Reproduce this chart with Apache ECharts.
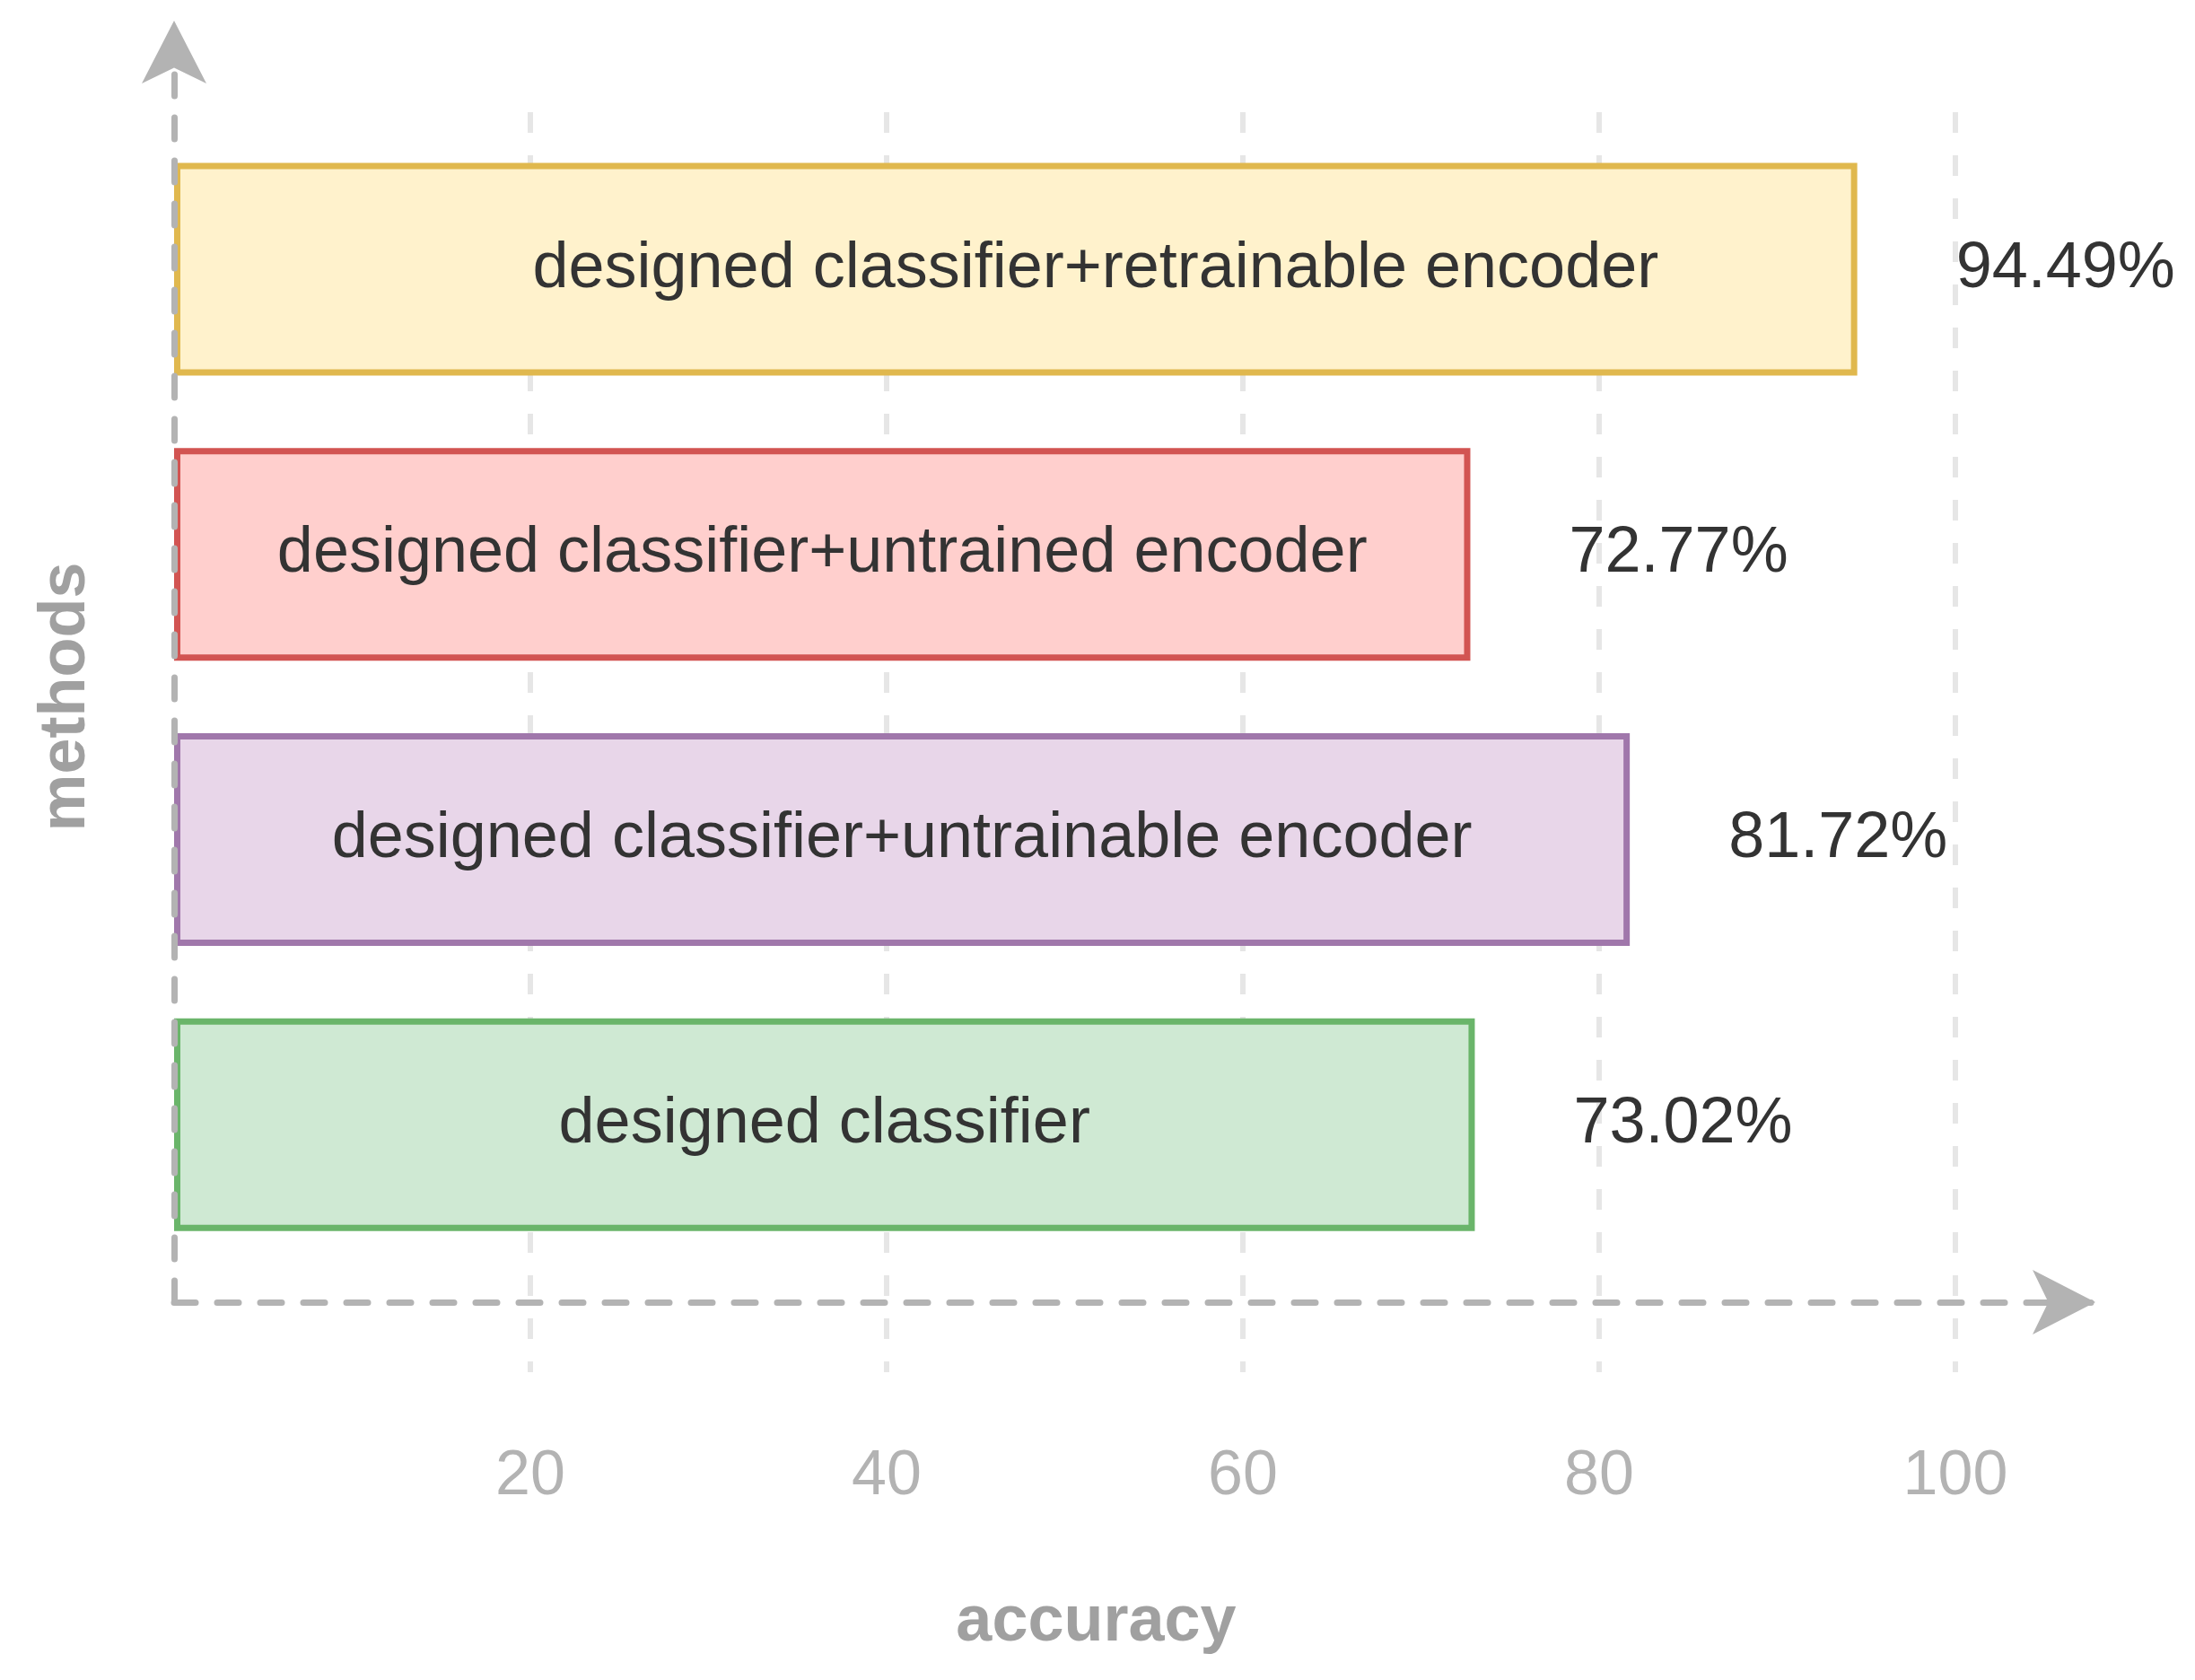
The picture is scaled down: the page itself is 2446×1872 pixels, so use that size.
<!DOCTYPE html>
<html>
<head>
<meta charset="utf-8">
<script src="https://cdn.jsdelivr.net/npm/echarts@6/dist/echarts.min.js"></script>
<style>
  html, body { margin: 0; padding: 0; background: #fff; }
  #chart { width: 2446px; height: 1872px; }
</style>
</head>
<body>
<div id="chart"></div>
<script>
// chart data
const methods = [
    'designed classifier+retrainable encoder',
    'designed classifier+untrained encoder',
    'designed classifier+untrainable encoder',
    'designed classifier'
]
const accuracy = [94.49, 72.77, 81.72, 73.02]
const xMin = 0
const xMax = 100
const xStep = 20

// draw.io style colours, one per bar
const fills = ['#fff2cc', '#ffcfcd', '#e8d6e9', '#cfe9d3']
const strokes = ['#e0b84e', '#d25452', '#a077ab', '#6ab56a']

const font = '"Liberation Sans", Arial, sans-serif'
const axisGrey = '#b3b3b3'

const myChart = echarts.init(document.getElementById('chart'), null, { renderer: 'canvas' })

const option = {
    animation: false,
    backgroundColor: '#fff',
    textStyle: { fontFamily: font },
    grid: [
        // bars
        { left: 194, right: 267, top: 141, bottom: 460 },
        // dashed split lines + tick labels
        { left: 194, right: 267, top: 125, bottom: 343 },
        // arrow axis lines
        { left: 194, right: 111, top: 23, bottom: 421 }
    ],
    xAxis: [
        { gridIndex: 0, type: 'value', min: xMin, max: xMax, show: false },
        {
            gridIndex: 1,
            type: 'value',
            min: xMin,
            max: xMax,
            interval: xStep,
            axisLine: { show: false },
            axisTick: { show: false },
            axisLabel: {
                showMinLabel: false,
                color: axisGrey,
                fontSize: 70,
                fontFamily: font,
                margin: 82
            },
            splitLine: {
                show: true,
                showMinLine: false,
                lineStyle: { color: '#e6e6e6', width: 6, type: [23, 25] }
            },
            name: 'accuracy',
            nameLocation: 'middle',
            nameGap: 243,
            nameTextStyle: {
                color: '#a0a0a0',
                fontSize: 72,
                fontWeight: 'bold',
                fontFamily: font,
                padding: [0, 0, 0, 70]
            }
        },
        {
            gridIndex: 2,
            type: 'value',
            min: 0,
            max: 1,
            z: 5,
            axisLine: {
                show: true,
                symbol: ['none', 'arrow'],
                symbolSize: [54, 70],
                lineStyle: { color: axisGrey, width: 7, type: [24, 24] }
            },
            axisTick: { show: false },
            axisLabel: { show: false },
            splitLine: { show: false }
        }
    ],
    yAxis: [
        {
            gridIndex: 0,
            type: 'category',
            data: methods,
            inverse: true,
            axisLine: { show: false },
            axisTick: { show: false },
            axisLabel: { show: false },
            splitLine: { show: false },
            name: 'methods',
            nameLocation: 'middle',
            nameGap: 84,
            nameTextStyle: {
                color: '#a0a0a0',
                fontSize: 72,
                fontWeight: 'bold',
                fontFamily: font
            }
        },
        { gridIndex: 1, type: 'value', show: false },
        {
            gridIndex: 2,
            type: 'value',
            min: 0,
            max: 1,
            z: 5,
            axisLine: {
                show: true,
                symbol: ['none', 'arrow'],
                symbolSize: [54, 70],
                lineStyle: { color: axisGrey, width: 7, type: [24, 24] }
            },
            axisTick: { show: false },
            axisLabel: { show: false },
            splitLine: { show: false }
        }
    ],
    series: [
        {
            name: 'methods',
            type: 'bar',
            xAxisIndex: 0,
            yAxisIndex: 0,
            barWidth: 237,
            data: accuracy.map(function (v, i) {
                let item = {
                    value: v,
                    itemStyle: { color: fills[i], borderColor: strokes[i] }
                }
                // the top label sits a bit right of centre in the original
                if (i === 0) {
                    item.label = { offset: [89, 0] }
                }
                return item
            }),
            itemStyle: { borderWidth: 7 },
            label: {
                show: true,
                position: 'inside',
                formatter: function (p) { return p.name },
                color: '#333333',
                fontSize: 72,
                fontFamily: font
            }
        },
        {
            name: 'values',
            type: 'bar',
            xAxisIndex: 0,
            yAxisIndex: 0,
            barWidth: 237,
            barGap: '-100%',
            silent: true,
            data: accuracy,
            itemStyle: { color: 'rgba(0,0,0,0)' },
            label: {
                show: true,
                position: 'right',
                distance: 110,
                formatter: function (p) { return p.value.toFixed(2) + '%' },
                color: '#333333',
                fontSize: 72,
                fontFamily: font
            }
        }
    ]
}

myChart.setOption(option)

window.addEventListener('resize', function () {
    myChart.resize()
})
</script>
</body>
</html>
